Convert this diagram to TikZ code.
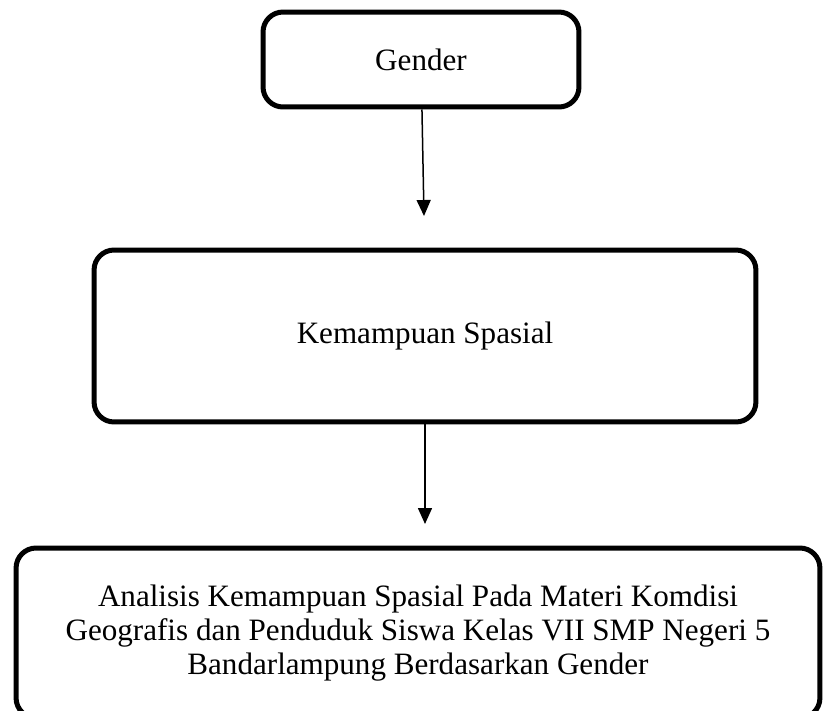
\documentclass[tikz,border=0pt]{standalone}
\usepackage{fontspec}
\setmainfont{Liberation Serif}
\usetikzlibrary{arrows.meta}

\begin{document}
\begin{tikzpicture}[x=0.02cm, y=-0.02cm, every node/.style={rectangle, rounded corners=0.4cm, draw, line width=0.1cm, inner sep=0pt, align=center, font=\fontsize{17.7pt}{19.4pt}\selectfont}]
  \useasboundingbox (0,0) rectangle (823,711);
  \node (1) [minimum width=6.32cm, minimum height=1.9cm] at (421,59.5) {Gender};
  \node (2) [minimum width=13.24cm, minimum height=3.44cm] at (425,336) {Kemampuan Spasial};
  \node (3) [minimum width=16.08cm, minimum height=3.4cm] at (418,633) {Analisis Kemampuan Spasial Pada Materi Komdisi\\Geografis dan Penduduk Siswa Kelas VII SMP Negeri 5\\Bandarlampung Berdasarkan Gender};
  \coordinate (t1) at (424,216);
  \coordinate (t2) at (425,524);
  \draw [line width=0.03cm, -{Triangle[width=0.28cm, length=0.32cm]}] (1) -- (t1);
  \draw [line width=0.03cm, -{Triangle[width=0.28cm, length=0.32cm]}] (2) -- (t2);
\end{tikzpicture}
\end{document}
